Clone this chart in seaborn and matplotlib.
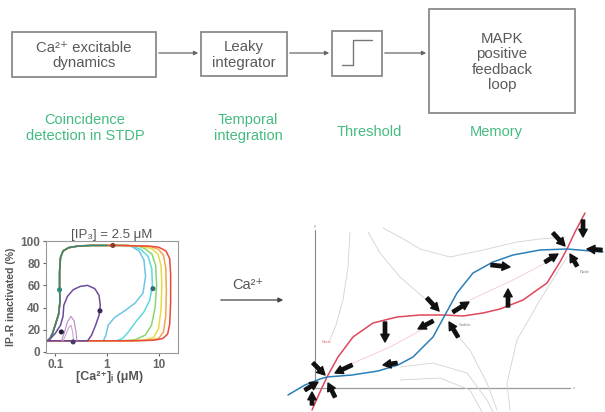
import matplotlib
matplotlib.use('Agg')
import matplotlib.pyplot as plt
import seaborn as sns

sns.set_theme(style='ticks')
plt.rcParams['font.family'] = ['Liberation Sans', 'DejaVu Sans']

# ---------------- top pipeline (pixel units) ----------------
box_text = ['Ca²⁺ excitable\ndynamics', 'Leaky\nintegrator', '', 'MAPK\npositive\nfeedback\nloop']
box_x0 = [12, 201, 332, 429]
box_x1 = [156, 287, 382, 575]
box_y0 = [32, 32, 31, 9]
box_y1 = [77, 76, 76, 113]
stage_text = ['Coincidence\ndetection in STDP', 'Temporal\nintegration', 'Threshold', 'Memory']
stage_x = [85, 248, 369, 496]
stage_y = [128, 128, 132, 132]
step_x = [342, 353, 353, 372]
step_y = [65, 65, 40, 40]

# ---------------- left panel: IP3R trajectories ----------------
ret_ca = [4.0, 2.0, 1.0, 0.5, 0.28, 0.18, 0.14, 0.125, 0.12, 0.12, 0.122, 0.115, 0.10, 0.088, 0.078, 0.07]
ret_in = [95.5, 96, 96, 96, 95.5, 94, 91, 85, 72, 58, 45, 34, 25, 17, 12, 10]

red_ca = [0.07, 0.5, 3, 8, 12, 15, 16.5, 17.2, 17.2, 16.5, 14, 10, 6]
red_in = [10, 10, 10, 10.5, 12, 16, 25, 45, 70, 84, 91, 94.5, 95.5]
orange_ca = [0.07, 0.5, 3, 6.5, 10, 12.5, 13.8, 14.2, 13.8, 12.5, 10, 7]
orange_in = [10, 10, 10, 10.5, 12, 18, 32, 55, 76, 87, 92.5, 95]
yellow_ca = [0.07, 0.5, 2.5, 5, 8, 10, 11.2, 11.6, 11.2, 9.8, 7.5, 5]
yellow_in = [10, 10, 10, 10.5, 13, 21, 38, 60, 78, 88, 93, 95]
green_ca = [0.07, 0.5, 2, 3.5, 5.5, 7.3, 8.6, 9.2, 8.8, 7.5, 5.5, 4]
green_in = [10, 10, 10, 11, 15, 24, 40, 60, 78, 88, 93, 95.5]
cyan_ca = [0.07, 0.5, 1.5, 2.0, 2.6, 3.6, 5.2, 6.8, 7.6, 7.4, 6.3, 4.5, 3]
cyan_in = [10, 10, 10, 12, 18, 27, 36, 47, 60, 75, 86, 92.5, 95.5]
lblue_ca = [0.07, 0.5, 0.85, 0.95, 1.05, 1.4, 2.2, 3.5, 5.0, 5.6, 5.2, 4.2, 3]
lblue_in = [10, 10, 10, 15, 24, 31, 37, 44, 53, 68, 83, 91, 95]
purple_ca = [0.07, 0.2, 0.42, 0.5, 0.6, 0.7, 0.74, 0.7, 0.58, 0.42, 0.3, 0.22, 0.17, 0.145, 0.14, 0.125, 0.1, 0.08, 0.07]
purple_in = [10, 10, 10, 15, 24, 33, 42, 51, 57, 60, 59, 56, 50, 42, 32, 24, 17, 12, 10]
loop1_ca = [0.13, 0.15, 0.17, 0.2, 0.23, 0.25, 0.26]
loop1_in = [10, 18, 27, 32, 28, 18, 10]
loop2_ca = [0.14, 0.16, 0.18, 0.2, 0.215, 0.225]
loop2_in = [10, 16, 22, 24, 18, 10]
dot_ca = [0.12, 1.3, 7.8, 0.73, 0.13, 0.22]
dot_in = [56, 96, 57, 37, 18, 9]

# ---------------- right panel: phase plane (schematic units) ----------------
red_u = [-0.3, 0.5, 1.2, 2.3, 3.8, 5.8, 8.2, 10.5, 13.0, 14.8, 16.8, 18.5, 20.8, 23.2, 24.5, 25.2, 26.0, 27.0]
red_v = [-2.3, -0.5, 1.0, 3.0, 5.0, 6.4, 7.0, 7.2, 7.2, 7.1, 7.4, 7.8, 8.7, 10.4, 12.5, 13.8, 15.5, 17.4]
blue_u = [-2.7, -1.0, 0.5, 1.2, 3.7, 6.3, 8.3, 9.8, 11.8, 13.0, 14.2, 15.8, 17.8, 19.8, 22.5, 25.2, 28.8]
blue_v = [-0.8, 0.2, 0.8, 1.0, 1.2, 1.6, 2.2, 3.0, 5.0, 7.2, 9.4, 11.4, 12.5, 13.2, 13.7, 13.8, 13.5]
gray_u = [[3.5, 3.3, 2.8, 2.1, 1.5],
          [5.3, 6.5, 8.5, 10.8, 12.5],
          [6.8, 8.5, 10.5, 13.5, 16.8, 20.2, 22.5, 25.0],
          [13.5, 15.5, 17.2, 18.2],
          [25.2, 22.5, 20.2, 19.2, 19.5],
          [8.5, 11.8, 15.2, 17.2, 17.8],
          [8.5, 12.5, 15.5, 16.7]]
gray_v = [[15.5, 12.0, 8.7, 6.2, 4.7],
          [15.5, 13.4, 11.0, 9.0, 7.5],
          [15.9, 15.0, 13.8, 13.0, 13.7, 14.5, 14.8, 15.0],
          [6.0, 3.7, 0.4, -2.3],
          [13.0, 8.7, 4.7, 0.4, -2.3],
          [2.0, 2.4, 1.4, -1.3, -2.5],
          [0.7, 0.9, -0.3, -2.5]]
pink_u = [[2.2, 7.5, 11.2], [15.5, 19.8, 24.2]]
pink_v = [[1.7, 4.0, 6.0], [8.7, 10.7, 13.0]]
arrow_tail = [(-0.2, 2.4), (3.7, 2.2), (2.0, -1.0), (-1.0, -0.3), (-0.3, -1.8), (8.2, 2.4),
              (7.0, 6.5), (11.8, 6.6), (11.2, 8.9), (13.8, 7.5), (14.3, 5.0), (19.3, 8.0),
              (17.6, 12.2), (23.8, 15.4), (23.0, 12.5), (26.2, 12.1), (28.7, 13.7), (26.8, 16.7)]
arrow_head = [(1.0, 1.2), (2.0, 1.4), (1.3, 0.4), (0.3, 0.5), (-0.3, -0.5), (6.8, 2.2),
              (7.0, 4.5), (10.3, 5.8), (12.4, 7.6), (15.4, 8.5), (13.4, 6.5), (19.3, 9.8),
              (19.5, 12.0), (25.0, 14.1), (24.3, 13.3), (25.5, 13.3), (27.2, 13.8), (26.8, 15.0)]

fig = plt.figure(figsize=(6.05, 4.12), dpi=100)

# overlay in pixel coordinates
ov = fig.add_axes([0, 0, 1, 1])
ov.set_xlim(0, 605)
ov.set_ylim(412, 0)
ov.axis('off')
for t, x0, x1, y0, y1 in zip(box_text, box_x0, box_x1, box_y0, box_y1):
    ov.add_patch(plt.Rectangle((x0, y0), x1 - x0, y1 - y0, fill=False, ec='#8a8a8a', lw=1.3))
    ov.text((x0 + x1) / 2, (y0 + y1) / 2 + 1, t, ha='center', va='center', fontsize=10.8,
            color='#5a5a5a', linespacing=1.15)
ov.plot(step_x, step_y, color='#777777', lw=1.0)
for i in range(3):
    ov.annotate('', xy=(box_x0[i + 1], 53), xytext=(box_x1[i], 53),
                arrowprops=dict(arrowstyle='-|>', color='#666666', lw=0.9, mutation_scale=6))
for t, x, y in zip(stage_text, stage_x, stage_y):
    ov.text(x, y, t, ha='center', va='center', fontsize=10.5, color='#45bb80', linespacing=1.2)
ov.text(248, 285, 'Ca²⁺', ha='center', va='center', fontsize=10.5, color='#555555')
ov.annotate('', xy=(286, 300), xytext=(218, 300),
            arrowprops=dict(arrowstyle='-|>', color='#444444', lw=0.9, mutation_scale=7))

# left panel
ax = fig.add_axes([46 / 605, (412 - 353) / 412, 132 / 605, 112 / 412])
ax.set_xscale('log')
curves = [(lblue_ca, lblue_in, '#6ec6e6'), (cyan_ca, cyan_in, '#5fdada'),
          (green_ca, green_in, '#8ad66e'), (yellow_ca, yellow_in, '#e6dc4a'),
          (orange_ca, orange_in, '#f4a64a'), (red_ca, red_in, '#e84a3c')]
for cx, cy, col in curves:
    sns.lineplot(x=cx + ret_ca, y=cy + ret_in, sort=False, estimator=None, color=col, lw=1.1, ax=ax)
sns.lineplot(x=ret_ca[2:], y=ret_in[2:], sort=False, estimator=None, color='#2f8c7c', lw=1.1, ax=ax)
sns.lineplot(x=purple_ca, y=purple_in, sort=False, estimator=None, color='#6f4a9c', lw=1.1, ax=ax)
sns.lineplot(x=loop1_ca, y=loop1_in, sort=False, estimator=None, color='#b58cc0', lw=0.8, ax=ax)
sns.lineplot(x=loop2_ca, y=loop2_in, sort=False, estimator=None, color='#c9a5c9', lw=0.8, ax=ax)
ax.scatter(dot_ca, dot_in, s=7, color=['#2f8c7c', '#8a3a30', '#2f6c7c', '#3a2a5a', '#222233', '#4a3a6a'], zorder=5)
ax.set_xlim(0.0654, 23.9)
ax.set_ylim(-1, 100)
ax.set_xticks([0.1, 1, 10])
ax.set_xticklabels(['0.1', '1', '10'])
ax.minorticks_off()
ax.set_yticks([0, 20, 40, 60, 80, 100])
ax.tick_params(labelsize=8.5, colors='#666666', length=2.5, width=0.8, pad=1.5)
for lab in ax.get_xticklabels() + ax.get_yticklabels():
    lab.set_fontweight('bold')
for s in ax.spines.values():
    s.set_color('#999999')
    s.set_linewidth(0.8)
ax.set_title('[IP₃] = 2.5 μM', fontsize=9.5, color='#555555', pad=1.5)
ax.set_ylabel('IP₃R inactivated (%)', fontsize=7.5, fontweight='bold', color='#555555')
ax.set_xlabel('[Ca²⁺]ᵢ (μM)', fontsize=9, fontweight='bold', color='#555555')
ax.yaxis.set_label_coords(-0.225, 0.5)
ax.xaxis.set_label_coords(0.48, -0.165)

# right panel
rp = fig.add_axes([280 / 605, 0, 325 / 605, 212 / 412])
rp.set_xlim(-3.5, 29.0)
rp.set_ylim(-2.5, 18.7)
rp.axis('off')
rp.plot([0, 0], [0, 15.7], color='#888888', lw=0.8)
rp.plot([0, 25.5], [-0.1, -0.1], color='#999999', lw=0.9)
rp.text(0, 15.9, 'y', fontsize=3, color='#888888', ha='center', va='bottom')
rp.text(25.8, -0.1, 'x', fontsize=3, color='#888888', ha='left', va='center')
for gu, gv in zip(gray_u, gray_v):
    rp.plot(gu, gv, color='#d2d2d2', lw=0.6)
for pu, pv in zip(pink_u, pink_v):
    rp.plot(pu, pv, color='#f3c8cc', lw=0.6)
rp.plot(red_u, red_v, color='#e0475a', lw=1.1)
rp.plot(blue_u, blue_v, color='#2b7fb8', lw=1.1)
for tl, hd in zip(arrow_tail, arrow_head):
    rp.annotate('', xy=hd, xytext=tl,
                arrowprops=dict(arrowstyle='simple,head_length=0.7,head_width=0.75,tail_width=0.3',
                                color='#111111', mutation_scale=8, shrinkA=0, shrinkB=0))
rp.text(1.2, 4.4, 'Node', fontsize=3, color='#e0707a', ha='center')
rp.text(15.0, 6.1, 'Saddle', fontsize=3, color='#888888', ha='center')
rp.text(27.0, 11.4, 'Node', fontsize=3, color='#888888', ha='center')

fig.savefig('out.png', dpi=100)
